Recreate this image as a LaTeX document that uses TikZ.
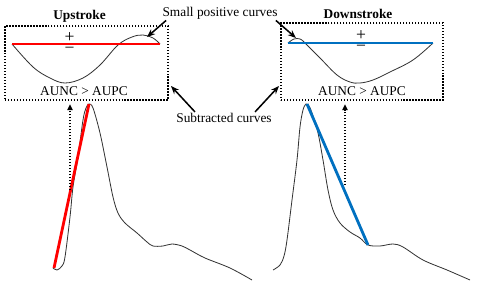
\documentclass[tikz,border=0pt]{standalone}
\usepackage{fontspec}
\setmainfont{Liberation Serif}
\usetikzlibrary{arrows.meta,positioning}
\definecolor{upred}{HTML}{FF0000}
\definecolor{downblue}{HTML}{0070C0}
\newcommand{\lbl}{\fontsize{11.4}{13}\selectfont}

\begin{document}
\begin{tikzpicture}[x=0.03cm,y=-0.03cm,
  panel/.style={draw,line width=1.1pt,dash pattern=on 1.1pt off 1.45pt,
                minimum width=4.89cm,minimum height=2.22cm},
  txt/.style={font=\lbl,inner sep=1pt},
  sign/.style={font=\fontsize{15}{9.8}\selectfont,inner sep=0pt,align=center},
  callout/.style={line width=1.3pt,-{Stealth[length=7pt,width=5.5pt]}},
  lift/.style={line width=1.1pt,dash pattern=on 1.1pt off 1.45pt,
               -{Triangle[length=5pt,width=4.5pt]},shorten >=3pt},
  wave/.style={line width=0.7pt,black!80},
  slope/.style={line width=2.4pt},
  level/.style={line width=1.7pt},
]
  \useasboundingbox (0,0) rectangle (480,281);
  \node[panel] (upbox) at (86.5,63) {};
  \node[panel,minimum width=4.86cm,minimum height=2.31cm] (downbox) at (362,61.5) {};
  \node[txt,font=\lbl\bfseries] (uptitle) at (79.5,16) {Upstroke};
  \node[txt,font=\lbl\bfseries] (downtitle) at (358,14) {Downstroke};

  \draw[wave] plot[smooth,tension=0.6] coordinates {(12,44) (33,67) (50,78) (65,83) (83,78)
    (100,65) (118,45) (132,37) (143,35) (153,38) (160,44)};
  \draw[level,upred] (12,44) -- (160,44);
  \draw[wave] plot[smooth,tension=0.6] coordinates {(288,43) (294,39) (300,39) (305,43)
    (320,58) (337,75) (350,82) (360,83) (373,80) (390,72) (413,60) (433,43)};
  \draw[level,downblue] (288,43) -- (433,43);

  \node[sign] (upsign) at (69.5,43) {+\\−};
  \node[sign] (downsign) at (361,41) {+\\−};
  \node[txt] (upaunc) at (84,91) {AUNC > AUPC};
  \node[txt] (downaunc) at (362,91) {AUNC > AUPC};

  \node[txt] (smallpos) at (220,13) {Small positive curves};
  \node[txt] (subtr) at (224,118) {Subtracted curves};
  \coordinate (upbump) at (147,37);
  \coordinate (downbump) at (296,38);
  \coordinate (uptip) at (171,86);
  \coordinate (downtip) at (279,86);
  \draw[callout] ([shift={(5,0)}]smallpos.south west) -- (upbump);
  \draw[callout] ([shift={(-3,0)}]smallpos.south east) -- (downbump);
  \draw[callout] ([shift={(20,0)}]subtr.north west) -- (uptip);
  \draw[callout] ([shift={(-18,0)}]subtr.north east) -- (downtip);

  \draw[wave] plot[smooth,tension=0.55] coordinates {(53,268) (57,270) (62,266) (65,257)
    (70,217) (73,187) (78,157) (83,120) (86,108) (89,104) (93,108) (100,133) (107,167)
    (113,197) (118,213) (125,223) (137,233) (147,242) (153,246) (163,246) (172,244)
    (182,246) (190,250) (205,258) (230,268) (252,280)};
  \coordinate (upfoot) at (54,268);
  \coordinate (uppeak) at (89,104);
  \draw[slope,upred] (upfoot) -- (uppeak);
  \coordinate (uplow) at (70,190);
  \draw[lift] (uplow) -- (uplow |- upbox.south);

  \draw[wave] plot[smooth,tension=0.55] coordinates {(273,270) (280,265) (284,256) (287,240)
    (292,200) (297,160) (300,127) (303,110) (306,104) (309,106) (312,113) (318,133)
    (323,160) (328,190) (333,210) (340,223) (350,232) (360,238) (368,245) (380,246)
    (393,244) (403,247) (423,260) (447,270) (470,280)};
  \coordinate (downpeak) at (307,104);
  \coordinate (downfoot) at (368,245);
  \draw[slope,downblue] (downpeak) -- (downfoot);
  \coordinate (downlow) at (345,185);
  \draw[lift] (downlow) -- (downlow |- downbox.south);
\end{tikzpicture}
\end{document}
